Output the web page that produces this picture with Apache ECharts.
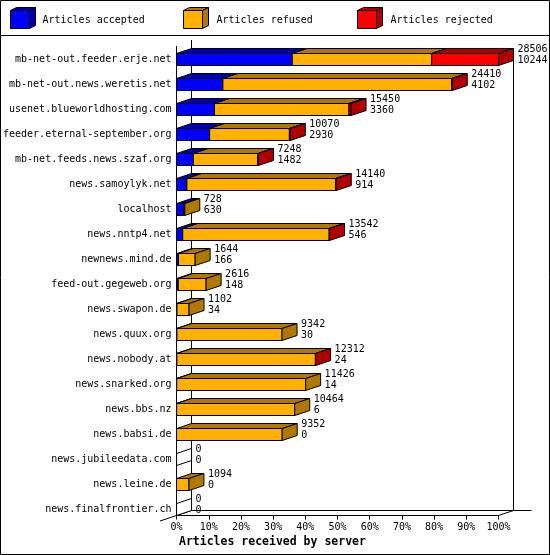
<!DOCTYPE html>
<html><head><meta charset="utf-8">
<script src="https://cdn.jsdelivr.net/npm/echarts@6/dist/echarts.min.js"></script>
<style>html,body{margin:0;padding:0;background:#fff}#c{width:550px;height:555px}</style>
</head><body><div id="c"></div>
<script>
const categories = [
  'mb-net-out.feeder.erje.net','mb-net-out.news.weretis.net','usenet.blueworldhosting.com',
  'feeder.eternal-september.org','mb-net.feeds.news.szaf.org','news.samoylyk.net','localhost',
  'news.nntp4.net','newnews.mind.de','feed-out.gegeweb.org','news.swapon.de','news.quux.org',
  'news.nobody.at','news.snarked.org','news.bbs.nz','news.babsi.de','news.jubileedata.com',
  'news.leine.de','news.finalfrontier.ch'
];
const totalArticles = [28506,24410,15450,10070,7248,14140,728,13542,1644,2616,1102,9342,12312,11426,10464,9352,0,1094,0];
const accepted      = [10244,4102,3360,2930,1482,914,630,546,166,148,34,30,24,14,6,0,0,0,0];
const refused       = [12345,20250,11900,7060,5706,13156,98,12966,1478,2468,1068,9312,12268,11412,10458,9352,0,1094,0];
const rejected      = [5917,58,190,80,60,70,0,30,0,0,0,0,20,0,0,0,0,0,0];
const seriesNames = ['Articles accepted','Articles refused','Articles rejected'];
const axisTitle = 'Articles received by server';

const colors = ['#0000ff','#ffb000','#ff0000'];
const darkColors = ['#0000b0','#b07800','#b00000'];
const FONT = '"DejaVu Sans Mono", monospace';
const DX = 15, DY = 5, FRONT_H = 12;
const GL = 176.5, GW = 322, GT = 47, GH = 475;
const maxTotal = Math.max(...totalArticles);

function renderItem(params, api) {
  const i = api.value(0);
  const vals = [api.value(1), api.value(2), api.value(3)];
  const total = api.value(4);
  const acc = api.value(1);
  const cy = api.coord([0, i])[1];
  const yT = cy - FRONT_H / 2;
  const children = [];
  let lastIdx = -1;
  vals.forEach((v, k) => { if (v > 0) lastIdx = k; });
  let cum = 0;
  for (let k = 0; k < 3; k++) {
    if (vals[k] <= 0) continue;
    const x0 = api.coord([cum / maxTotal * 100, i])[0];
    cum += vals[k];
    const x1 = api.coord([cum / maxTotal * 100, i])[0];
    children.push({type:'polygon', shape:{points:[[x0,yT],[x1,yT],[x1+DX,yT-DY],[x0+DX,yT-DY]]},
      style:{fill:darkColors[k], stroke:'#000', lineWidth:1}});
    children.push({type:'rect', shape:{x:x0, y:yT, width:x1-x0, height:FRONT_H},
      style:{fill:colors[k], stroke:'#000', lineWidth:1}});
  }
  const xe = api.coord([cum / maxTotal * 100, i])[0];
  children.push({type:'polygon', shape:{points:[[xe,yT],[xe+DX,yT-DY],[xe+DX,yT+FRONT_H-DY],[xe,yT+FRONT_H]]},
    style:{fill: lastIdx >= 0 ? darkColors[lastIdx] : '#fff', stroke:'#000', lineWidth:1}});
  const tx = xe + DX + 4;
  children.push({type:'text', x: tx, y: cy - 10, style:{text:String(total), fill:'#000', font:'10px ' + FONT,
    align:'left', verticalAlign:'middle', textAlign:'left', textVerticalAlign:'middle'}});
  children.push({type:'text', x: tx, y: cy + 1, style:{text:String(acc), fill:'#000', font:'10px ' + FONT,
    align:'left', verticalAlign:'middle', textAlign:'left', textVerticalAlign:'middle'}});
  return {type:'group', children};
}

function line(x1, y1, x2, y2) {
  return {type:'line', shape:{x1, y1, x2, y2}, style:{stroke:'#000', lineWidth:1}, z:0, silent:true};
}
function cube(x, y, w, h, d, dd, k) {
  return [
    {type:'polygon', shape:{points:[[x,y],[x+w,y],[x+w+d,y-dd],[x+d,y-dd]]}, style:{fill:darkColors[k], stroke:'#000', lineWidth:1}, z:5},
    {type:'polygon', shape:{points:[[x+w,y],[x+w+d,y-dd],[x+w+d,y+h-dd],[x+w,y+h]]}, style:{fill:darkColors[k], stroke:'#000', lineWidth:1}, z:5},
    {type:'rect', shape:{x, y, width:w, height:h}, style:{fill:colors[k], stroke:'#000', lineWidth:1}, z:5}
  ];
}
const legendX = [10.5, 183.5, 357.5];
const legendTextX = [42.5, 216.5, 390.5];
const graphics = [
  {type:'rect', shape:{x:0.5, y:0.5, width:549, height:554}, style:{fill:'none', stroke:'#000', lineWidth:1}, z:0},
  line(0, 35.5, 550, 35.5),
  line(GL, 46, GL, 515.5),
  line(GL + DX, 40, GL + DX, 510.5),
  line(GL + GW + DX, 48, GL + GW + DX, 510.5),
  line(GL + DX, 510.5, 531.5, 510.5),
  line(160, 521, GL + DX, 510.5),
  line(GL + GW, 515.5, GL + GW + DX, 510.5)
];
seriesNames.forEach((n, k) => {
  graphics.push(...cube(legendX[k], 10.5, 19, 18, 6, 3, k));
  graphics.push({type:'text', x:legendTextX[k], y:20, style:{text:n, fill:'#000', font:'10px ' + FONT,
    align:'left', verticalAlign:'middle', textAlign:'left', textVerticalAlign:'middle'}, z:5});
});

const chart = echarts.init(document.getElementById('c'), null, {renderer:'canvas'});
chart.setOption({
  animation: false,
  backgroundColor: '#fff',
  title: {text: axisTitle, left: 179, top: 536, padding: 0,
    textStyle: {fontFamily: FONT, fontSize: 11.5, fontWeight: 'bold', color: '#000'}},
  grid: {left: GL, top: GT, width: GW, height: GH, containLabel: false},
  xAxis: {type:'value', min:0, max:100, interval:10, offset:-6.5,
    axisLine:{show:true, lineStyle:{color:'#000', width:1}},
    axisTick:{show:true, length:4, lineStyle:{color:'#000'}},
    axisLabel:{formatter:'{value}%', color:'#000', fontFamily:FONT, fontSize:10, margin:7},
    splitLine:{show:false}},
  yAxis: {type:'category', data:categories, inverse:true,
    axisLine:{show:false}, axisTick:{show:false},
    axisLabel:{color:'#000', fontFamily:FONT, fontSize:10, margin:5}},
  graphic: graphics,
  series: [{
    type:'custom', clip:false, z:2,
    renderItem,
    encode:{x:5, y:0},
    data: categories.map((c, i) => [i, accepted[i], refused[i], rejected[i], totalArticles[i], totalArticles[i] / maxTotal * 100])
  }]
});
</script></body></html>
